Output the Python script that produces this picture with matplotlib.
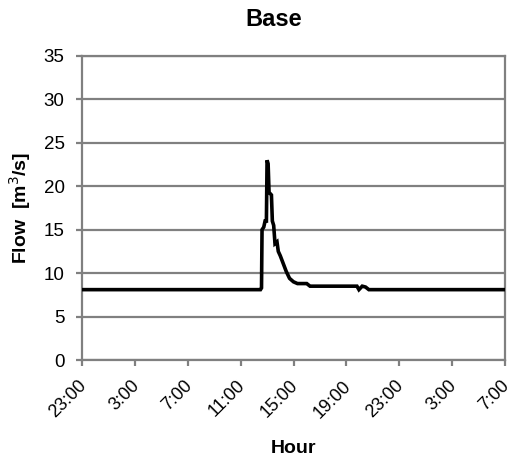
import matplotlib
matplotlib.use("Agg")
import matplotlib.pyplot as plt
import matplotlib.transforms as mtransforms

plt.rcParams['font.family'] = ['Liberation Sans', 'DejaVu Sans']

# hours since 23:00 (start) and flow values
hours = [0, 13.5, 13.58, 13.62, 13.75, 13.85, 13.95, 14.0, 14.08, 14.15, 14.33,
         14.4, 14.5, 14.6, 14.75, 14.85, 15.0, 15.2, 15.45, 15.7, 16.0, 16.3,
         17.0, 17.25, 20.8, 20.95, 21.2, 21.45, 21.7, 32]
flow = [8.1, 8.1, 8.3, 15.0, 15.3, 16.0, 16.0, 23.0, 22.6, 19.3, 19.0,
        16.0, 15.5, 13.4, 13.6, 12.5, 12.0, 11.2, 10.2, 9.4, 9.0, 8.8,
        8.8, 8.5, 8.5, 8.1, 8.5, 8.4, 8.1, 8.1]
tick_hours = [0, 4, 8, 12, 16, 20, 24, 28, 32]
tick_labels = ["23:00", "3:00", "7:00", "11:00", "15:00", "19:00", "23:00", "3:00", "7:00"]
y_ticks = [0, 5, 10, 15, 20, 25, 30, 35]

fig = plt.figure(figsize=(5.13, 4.61), dpi=100)
ax = fig.add_axes([82/513, 1-360/461, (505-82)/513, (360-56)/461])

grey = '#808080'
ax.plot(hours, flow, color='black', lw=2.6, solid_joinstyle='miter', zorder=3)

ax.set_xlim(0, 32)
ax.set_ylim(0, 35)
ax.set_yticks(y_ticks)
ax.set_xticks(tick_hours)
ax.set_xticklabels(tick_labels, rotation=45, ha='right', rotation_mode='anchor')
ax.yaxis.grid(True, color=grey, lw=1.6)
ax.set_axisbelow(True)
for s in ax.spines.values():
    s.set_color(grey)
    s.set_linewidth(1.6)
ax.tick_params(axis='both', colors=grey, width=1.6, length=4.5, labelsize=13.5,
               labelcolor='black', direction='out')
ax.tick_params(axis='x', pad=8, labelsize=13)
ax.tick_params(axis='y', pad=8)
offset = mtransforms.ScaledTranslation(-4/100, 0, fig.dpi_scale_trans)
for lab in ax.get_xticklabels():
    lab.set_transform(lab.get_transform() + offset)

fig.text(274/513, 1-19/461, "Base", ha='center', va='center', fontsize=17, fontweight='bold')
fig.text(293/513, 1-448/461, "Hour", ha='center', va='center', fontsize=14, fontweight='bold')
fig.text(20/513, 1-208/461, "Flow  [m$^3$/s]", ha='center', va='center', rotation=90,
         fontsize=14, fontweight='bold')

fig.savefig("out.png", dpi=100)
